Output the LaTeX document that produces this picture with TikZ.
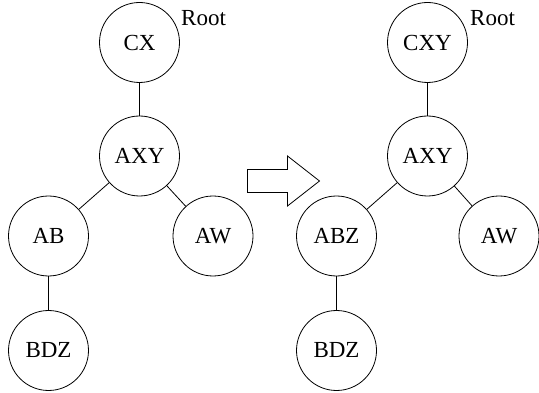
\documentclass[tikz,border=0pt]{standalone}
\usepackage{fontspec}
\setmainfont{Liberation Serif}
\begin{document}
\begin{tikzpicture}[x=1pt,y=-1pt,
  tnode/.style={draw,circle,minimum size=80pt,inner sep=0pt,line width=0.8pt,font=\fontsize{23}{26}\selectfont},
  edge/.style={line width=0.8pt},
  lbl/.style={font=\fontsize{23}{26}\selectfont,inner sep=0pt,anchor=base west}]
\useasboundingbox (0,0) rectangle (539,393);
% tree before the change
\node[tnode] (cx)  at (139.5,42.5) {CX};
\node[tnode] (axy) at (139.5,156) {AXY};
\node[tnode] (ab)  at (48.5,236) {AB};
\node[tnode] (aw)  at (213,236) {AW};
\node[tnode] (bdz) at (48.5,350.5) {BDZ};
\node[lbl] (root1) at (181,26) {Root};
\draw[edge] (cx) -- (axy);
\draw[edge] (axy) -- (ab);
\draw[edge] (axy) -- (aw);
\draw[edge] (ab) -- (bdz);
% hollow transition arrow
\draw[line width=0.8pt,line join=miter]
  (247.5,169.5) -- (287.5,169.5) -- (287.5,156) -- (319.5,181) --
  (287.5,206) -- (287.5,192.5) -- (247.5,192.5) -- cycle;
% tree after the change
\node[tnode] (cxy)  at (427.5,42.5) {CXY};
\node[tnode] (axy2) at (427.5,156) {AXY};
\node[tnode] (abz)  at (336.5,236) {ABZ};
\node[tnode] (aw2)  at (499,236) {AW};
\node[tnode] (bdz2) at (336.5,350.5) {BDZ};
\node[lbl] (root2) at (470,26) {Root};
\draw[edge] (cxy) -- (axy2);
\draw[edge] (axy2) -- (abz);
\draw[edge] (axy2) -- (aw2);
\draw[edge] (abz) -- (bdz2);
\end{tikzpicture}
\end{document}
